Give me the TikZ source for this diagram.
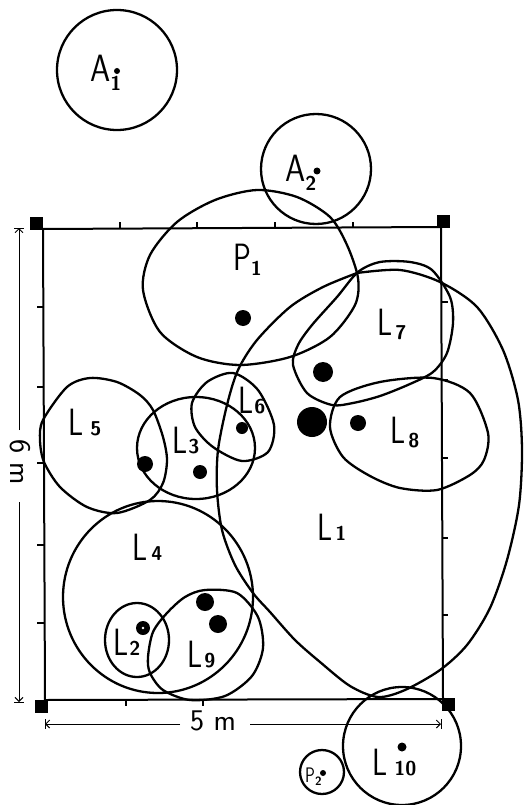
\documentclass[tikz,border=0pt]{standalone}
\usepackage{graphicx}
\usetikzlibrary{arrows.meta}
\tikzset{
 blob/.style={line width=2.3pt, line join=round},
 frame/.style={line width=2pt},
 tickmark/.style={line width=1.3pt},
 dim/.style={line width=1pt},
 dot/.style={fill=black},
 lbl/.style={anchor=base west, inner sep=0pt, font=\sffamily},
 corner/.style={fill=black, minimum size=13pt, inner sep=0pt, draw=none},
 tip/.style={-{Straight Barb[length=4pt,width=8pt]}}
}
\newcommand\bigL{\scalebox{0.78}[1]{\fontsize{38}{38}\selectfont L}}
\newcommand\bigP{\scalebox{0.78}[1]{\fontsize{38}{38}\selectfont P}}
\newcommand\bigA{\scalebox{0.85}[1]{\fontsize{38}{38}\selectfont A}}
\newcommand\subn[1]{{\fontsize{20}{20}\selectfont\bfseries #1}}
\begin{document}
\begin{tikzpicture}[x=1pt,y=-1pt]
\useasboundingbox (0,0) rectangle (525,805);
% frame
\coordinate (TL) at (43,229);
\coordinate (TR) at (441,227);
\coordinate (BR) at (443,699);
\coordinate (BL) at (45,700);
\draw[frame] (TL) -- (TR) -- (BR) -- (BL) -- cycle;
\node[corner] (c1) at (36,223) {};
\node[corner] (c2) at (443,221) {};
\node[corner] (c3) at (448,704) {};
\node[corner] (c4) at (41,706) {};
% ticks
\foreach \x in {120,197,275,353} \draw[tickmark] (\x,228) -- (\x,222);
\foreach \y in {307,387,463,545,623} \draw[tickmark] (44,\y) -- (37,\y);
\foreach \y in {302,380,458,538,615} \draw[tickmark] (442,\y) -- (448,\y);
\foreach \x in {126,203} \draw[tickmark] (\x,700) -- (\x,706);
% dimension 6 m
\coordinate (d1) at (19,228);
\coordinate (d2) at (19,430);
\coordinate (d3) at (19,502);
\coordinate (d4) at (19,702);
\draw[dim,tip] (d2) -- (d1);
\draw[dim,tip] (d3) -- (d4);
\draw[dim] (14,228) -- (24,228);
\draw[dim] (14,702) -- (24,702);
\node[rotate=-90, inner sep=0pt, font=\sffamily\fontsize{30}{30}\selectfont] (six) at (20,462) {6 m};
% dimension 5 m
\coordinate (e1) at (45,724);
\coordinate (e2) at (180,724);
\coordinate (e3) at (250,724);
\coordinate (e4) at (441,724);
\draw[dim,tip] (e2) -- (e1);
\draw[dim,tip] (e3) -- (e4);
\draw[dim] (45,719) -- (45,729);
\draw[dim] (441,719) -- (441,729);
\node[inner sep=0pt, font=\sffamily\fontsize{30}{30}\selectfont] (five) at (213,721) {5 m};
% A1, A2
\draw[blob] (117,70) circle[radius=60];
\draw[blob] (316,169) circle[radius=55];
% P1
\draw[blob] plot[smooth cycle] coordinates {(257,190) (297,197) (330,217) (347,245) (358,278) (355,305) (330,337) (290,357) (240,365) (197,357) (160,332) (143,290) (150,255) (177,222) (215,200)};
% L1
\draw[blob] plot[smooth] coordinates {(357,273) (400,270) (440,282) (477,307) (503,350) (518,400) (522,450) (519,505) (507,560) (490,608) (467,645) (440,670) (405,690) (378,697) (350,686) (320,662) (295,640) (270,612) (253,593) (235,565) (222,530) (217,490) (218,450) (227,405) (238,370) (257,340) (290,307) (323,287) (357,273)};
% L7
\draw[blob] plot[smooth cycle] coordinates {(358,272) (380,262) (410,262) (432,270) (450,297) (453,323) (447,353) (433,372) (410,384) (380,396) (353,403) (332,405) (307,393) (293,365) (298,345) (312,325) (337,297)};
% L8
\draw[blob] plot[smooth cycle] coordinates {(330,427) (340,397) (380,382) (433,378) (470,393) (488,433) (484,460) (470,475) (437,490) (400,488) (370,476) (343,457)};
% L6
\draw[blob] plot[smooth cycle] coordinates {(192,403) (207,382) (233,373) (258,390) (274,425) (268,452) (242,461) (213,447) (195,427)};
% L3
\draw[blob] (196,448) ellipse[x radius=59, y radius=51];
% L5
\draw[blob] plot[smooth cycle] coordinates {(43,420) (67,387) (90,378) (117,382) (140,395) (153,410) (163,437) (167,460) (163,483) (150,500) (117,513) (87,507) (60,487) (44,462) (40,440)};
% L4
\draw[blob] (158,597) ellipse[x radius=95, y radius=96];
% L9
\draw[blob] plot[smooth cycle] coordinates {(148,657) (153,632) (167,613) (185,597) (205,590) (237,593) (258,617) (263,648) (252,676) (225,696) (190,700) (163,690) (150,673)};
% L2
\draw[blob] (137,640) ellipse[x radius=32, y radius=37];
% L10, P2
\draw[blob] (402,746) circle[radius=59];
\draw[blob] (322,772) circle[radius=22];
% dots
\fill[dot] (117,71) circle[radius=3];
\fill[dot] (317,171) circle[radius=3.5];
\fill[dot] (243,318) circle[radius=8];
\fill[dot] (312,422) circle[radius=15];
\fill[dot] (323,372) circle[radius=10];
\fill[dot] (358,423) circle[radius=8];
\fill[dot] (242,428) circle[radius=6];
\fill[dot] (200,472) circle[radius=7];
\fill[dot] (145,464) circle[radius=8];
\fill[dot] (143,628) circle[radius=7];
\fill[white] (143,628) circle[radius=1.3];
\fill[dot] (205,602) circle[radius=9];
\fill[dot] (218,624) circle[radius=9];
\fill[dot] (402,747) circle[radius=4.5];
\fill[dot] (323,773) circle[radius=3];
% labels
\node[lbl] (lA1) at (90,82) {\bigA\raisebox{-9pt}{\subn{1}}};
\node[lbl] (lA2) at (285,182) {\bigA\raisebox{-9pt}{\subn{2}}};
\node[lbl] (lP1) at (233,270) {\bigP\raisebox{-5pt}{\subn{1}}};
\node[lbl] (lL1) at (317,540) {\bigL\hspace{3pt}\subn{1}};
\node[lbl] (lL2) at (113,655) {\bigL\hspace{1pt}\subn{2}};
\node[lbl] (lL3) at (172,453) {\bigL\hspace{1pt}\subn{3}};
\node[lbl] (lL4) at (132,560) {\bigL\hspace{4pt}\subn{4}};
\node[lbl] (lL5) at (68,435) {\bigL\hspace{7pt}\subn{5}};
\node[lbl] (lL6) at (238,413) {\bigL\hspace{1pt}\subn{6}};
\node[lbl] (lL7) at (377,335) {\bigL\hspace{3pt}\raisebox{-4pt}{\subn{7}}};
\node[lbl] (lL8) at (390,443) {\bigL\hspace{3pt}\raisebox{-4pt}{\subn{8}}};
\node[lbl] (lL9) at (187,667) {\bigL\hspace{2pt}\subn{9}};
\node[lbl] (lL10) at (372,775) {\bigL\hspace{7pt}\subn{10}};
\node[lbl] (lP2) at (305,782) {\scalebox{0.78}[1]{\fontsize{21}{21}\selectfont P}\raisebox{-3pt}{\fontsize{12}{12}\selectfont\bfseries 2}};
\end{tikzpicture}
\end{document}
